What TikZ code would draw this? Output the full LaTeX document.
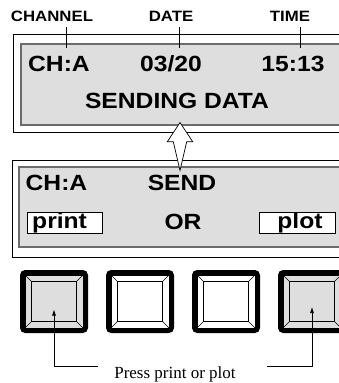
\documentclass[tikz,border=0pt]{standalone}
\usepackage{fontspec}
\setmainfont{Liberation Serif}
\newfontfamily\lcdfont{Liberation Sans}[FakeStretch=1.12]
\usepackage{tikz}
\usetikzlibrary{arrows.meta, positioning, calc}
\definecolor{lcdgray}{gray}{0.87}
\definecolor{lcdedge}{gray}{0.42}
\tikzset{
  frame box/.style={
    draw=black, line width=0.8pt, rectangle,
    inner sep=0pt, outer sep=0pt
  },
  lcd box/.style={
    draw=lcdedge, line width=1.8pt, fill=lcdgray, rectangle,
    inner sep=0pt, outer sep=0pt
  },
  head label/.style={
    font=\lcdfont\bfseries\fontsize{15}{17}\selectfont, inner sep=0pt
  },
  lcd text/.style={
    font=\lcdfont\bfseries\fontsize{22}{24}\selectfont, inner sep=0pt
  },
  soft key/.style={
    draw=black, fill=white, line width=0.8pt, rectangle,
    minimum width=75pt, minimum height=21pt, inner sep=0pt, outer sep=0pt
  },
  key rim/.style={
    draw=black, line width=5pt, rounded corners=3pt, rectangle,
    minimum width=63pt, minimum height=58pt, inner sep=0pt, outer sep=0pt
  },
  key edge/.style={
    draw=black, line width=0.5pt, rectangle,
    minimum width=58pt, minimum height=53pt, inner sep=0pt, outer sep=0pt
  },
  key face/.style={
    draw=black, line width=0.5pt, rectangle,
    minimum width=45pt, minimum height=40pt, inner sep=0pt, outer sep=0pt
  },
  tick line/.style={line width=0.7pt},
  pointer/.style={-{Latex[length=6pt,width=4pt]}, line width=0.7pt},
}

\begin{document}
\begin{tikzpicture}[x=1pt, y=-1pt]
  \useasboundingbox (0,0) rectangle (339,383);
  \clip (0,0) rectangle (339,383);

  % Status display
  \node[frame box, minimum width=335pt, minimum height=98pt] (topframe) at (180.5,83) {};
  \node[lcd box, minimum width=319pt, minimum height=81pt] (toplcd) at (180.5,84.5) {};
  \node[lcd text] (topch) at (59,64) {CH:A};
  \node[lcd text] (topdate) at (171,64) {03/20};
  \node[lcd text] (toptime) at (293,64) {15:13};
  \node[lcd text] (topmsg) at (177,101) {SENDING DATA};

  % Headers
  \node[head label] (chlabel) at (52,16) {CHANNEL};
  \node[head label] (datelabel) at (171,16) {DATE};
  \node[head label] (timelabel) at (290,16) {TIME};
  \coordinate (chtick) at (66,48);
  \coordinate (datetick) at (179,48);
  \coordinate (timetick) at (300,48);
  \draw[tick line] (chtick |- 0,27) -- (chtick);
  \draw[tick line] (datetick |- 0,27) -- (datetick);
  \draw[tick line] (timetick |- 0,27) -- (timetick);

  % Send display
  \node[frame box, minimum width=335.5pt, minimum height=97pt] (sendframe) at (180,208.5) {};
  \node[lcd box, minimum width=321pt, minimum height=80pt] (sendlcd) at (179.5,207) {};
  \node[lcd text] (sendch) at (56.5,183) {CH:A};
  \node[lcd text] (sendword) at (182,183) {SEND};
  \node[lcd text] (orword) at (183,222) {OR};
  \node[soft key] (printkey) at (64.5,222.5) {};
  \node[lcd text, anchor=west] (printword) at (32,222.5) {print};
  \node[soft key, minimum width=76pt] (plotkey) at (297,222.5) {};
  \node[lcd text] (plotword) at (300,222.5) {plot};

  % Hollow arrow between the displays
  \draw[fill=white, line width=0.7pt]
    (180,122.5) -- (192.7,141.7) -- (186.7,141.7) -- (180,170.5)
    -- (173.3,141.7) -- (167.3,141.7) -- cycle;

  % Keys
  \foreach \i/\shade in {1/lcdgray, 2/white, 3/white, 4/lcdgray} {
    \node[key rim, fill=\shade] (key\i) at ({54+86*(\i-1)},301.5) {};
    \node[key edge] (edge\i) at (key\i) {};
    \node[key face] (face\i) at (key\i) {};
    \draw[line width=0.5pt] (edge\i.north west) -- (face\i.north west);
    \draw[line width=0.5pt] (edge\i.north east) -- (face\i.north east);
    \draw[line width=0.5pt] (edge\i.south west) -- (face\i.south west);
    \draw[line width=0.5pt] (edge\i.south east) -- (face\i.south east);
  }

  % Note
  \node[font=\fontsize{17}{19}\selectfont, inner sep=0pt] (note) at (175,374) {Press print or plot};
  \coordinate (leftend) at (98,366);
  \coordinate (rightend) at (267,366);
  \draw[pointer] (leftend) -| ([yshift=-8pt]key1.center);
  \draw[pointer] (rightend) -| ([yshift=-5.5pt]key4.center);

\end{tikzpicture}
\end{document}
